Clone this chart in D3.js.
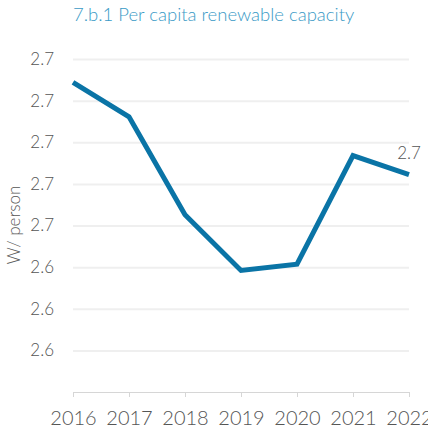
<!DOCTYPE html>
<html>
<head>
<meta charset="utf-8">
<script src="https://cdn.jsdelivr.net/npm/d3@7"></script>
<style>
  body { margin: 0; background: #fff; }
  text { font-family: "Lato", sans-serif; font-weight: 300; }
</style>
</head>
<body>
<div id="chart"></div>
<script>
// chart values
const years = [2016, 2017, 2018, 2019, 2020, 2021, 2022];
const perCapita = [2.6844, 2.6761, 2.6526, 2.6392, 2.6407, 2.6668, 2.6622];
const yTicks = [2.69, 2.68, 2.67, 2.66, 2.65, 2.64, 2.63, 2.62];
const yTickLabels = ["2.7", "2.7", "2.7", "2.7", "2.7", "2.6", "2.6", "2.6"];
const endLabel = "2.7";

const width = 428, height = 434;
const margin = {top: 59, right: 19, bottom: 42, left: 73};

let svg = d3.select("#chart")
    .append("svg")
    .attr("width", width)
    .attr("height", height);

let x = d3.scalePoint()
    .domain(years)
    .range([margin.left, width - margin.right]);

let y = d3.scaleLinear()
    .domain([2.61, 2.69])
    .range([height - margin.bottom, margin.top]);

// title
svg.append("text")
    .attr("x", margin.left)
    .attr("y", 21)
    .style("font-size", "18.5px")
    .style("fill", "#3a9ac6")
    .text("7.b.1 Per capita renewable capacity");

// gridlines + y labels
let yAxis = svg.append("g")
    .attr("transform", `translate(${margin.left},0)`)
    .call(d3.axisLeft(y)
        .tickValues(yTicks)
        .tickSize(-(width - margin.left - margin.right))
        .tickPadding(19)
        .tickFormat(function(d, i) { return yTickLabels[i]; }));
yAxis.select(".domain").remove();
yAxis.selectAll(".tick line").attr("stroke", "#efefef").attr("stroke-width", 2);
yAxis.selectAll(".tick text")
    .style("font-size", "17px")
    .style("fill", "#555")
    .style("font-family", null);

// x axis
let xAxis = svg.append("g")
    .attr("transform", `translate(0,${height - margin.bottom})`)
    .call(d3.axisBottom(x).tickSize(5).tickPadding(14).tickSizeOuter(0));
xAxis.select(".domain").attr("stroke", "#d6d6d6");
xAxis.selectAll(".tick line").attr("stroke", "#d6d6d6");
xAxis.selectAll(".tick text")
    .style("font-size", "20px")
    .style("fill", "#555")
    .style("font-family", null);

// y axis title
svg.append("text")
    .attr("transform", `translate(${20}, ${225}) rotate(-90)`)
    .style("text-anchor", "middle")
    .style("font-size", "17px")
    .style("fill", "#555")
    .text("W/ person");

// line
svg.append("path")
    .datum(perCapita)
    .attr("fill", "none")
    .attr("stroke", "#0a74a6")
    .attr("stroke-width", 5)
    .attr("stroke-linejoin", "miter")
    .attr("d", d3.line()
        .x(function(d, i) { return x(years[i]); })
        .y(function(d) { return y(d); }));

// end label
let last = perCapita.length - 1;
svg.append("text")
    .attr("x", x(years[last]))
    .attr("y", y(perCapita[last]) - 16)
    .style("text-anchor", "middle")
    .style("font-size", "17px")
    .style("fill", "#555")
    .text(endLabel);
</script>
</body>
</html>
